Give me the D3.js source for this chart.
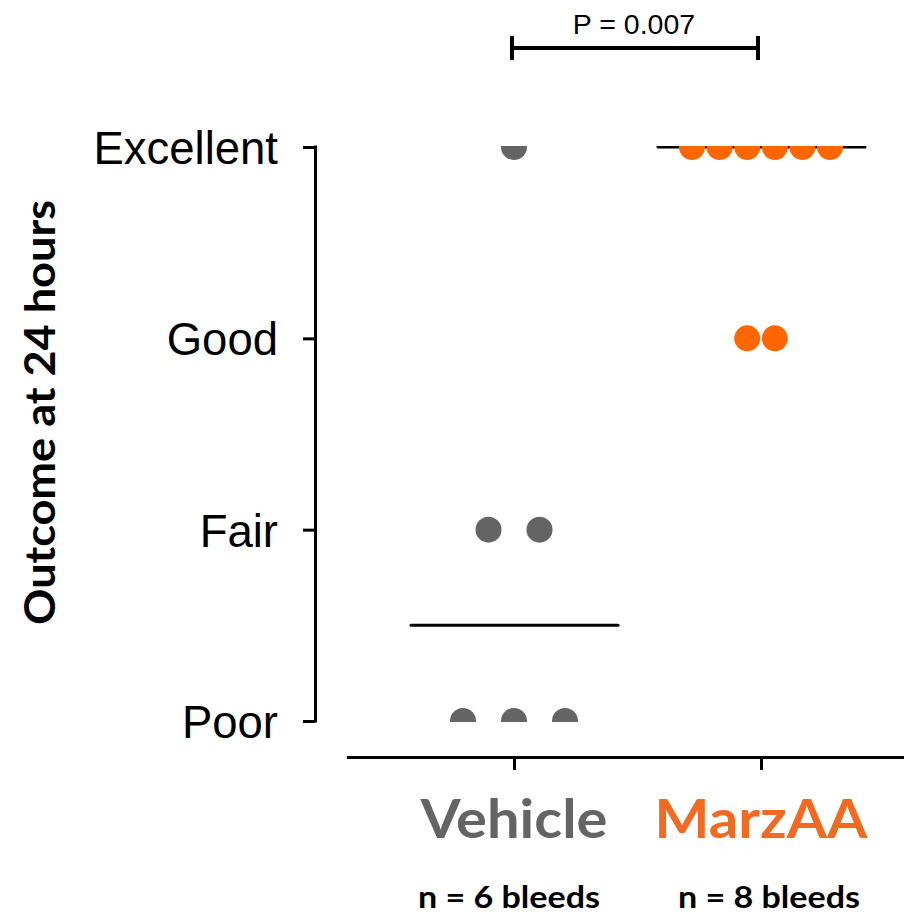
<!DOCTYPE html>
<html><head><meta charset="utf-8">
<script src="https://cdn.jsdelivr.net/npm/d3@7"></script>
<style>body{margin:0;background:#fff}</style>
</head><body>
<svg id="chart" width="904" height="916"></svg>
<script>
// ---- data ----
const outcomeLabels = ["Poor", "Fair", "Good", "Excellent"]; // scores 1..4
const groups = ["Vehicle", "MarzAA"];
const vehicleScores = [4, 2, 2, 1, 1, 1];
const marzaaScores = [4, 4, 4, 4, 4, 4, 3, 3];
const medians = [1.5, 4];
const nLabels = ["n = 6 bleeds", "n = 8 bleeds"];
const pLabel = "P = 0.007";

const groupColors = ["#646464", "#ff6600"];
const labelColors = ["#646464", "#f26a22"];
const dotSpacing = [51, 27.6];
const catWidths = [187, 213];
const nOffsets = [-5, 8];

const svg = d3.select("#chart");
const y = d3.scaleLinear().domain([1, 4]).range([721, 147]);
const x = d3.scalePoint().domain(groups).range([514, 761]);

// y axis
const yAxis = svg.append("g").attr("transform", "translate(315,0)")
  .call(d3.axisLeft(y).tickValues([1,2,3,4]).tickFormat(d => outcomeLabels[d-1])
    .tickSize(12).tickSizeOuter(0).tickPadding(25));
yAxis.select(".domain").attr("stroke", "#000").attr("stroke-width", 3)
  .attr("d", `M0.5,${y(4)-1.5}V${y(1)+1.5}`);
yAxis.selectAll(".tick line").attr("stroke", "#000").attr("stroke-width", 3);
yAxis.selectAll(".tick text").attr("font-family", "Liberation Sans, Arial, sans-serif")
  .attr("font-size", 45.5).attr("fill", "#000").attr("dy", "0.36em");

// x axis
const xAxis = svg.append("g").attr("transform", "translate(0,757)")
  .call(d3.axisBottom(x).tickSize(13).tickSizeOuter(0).tickFormat(""));
xAxis.select(".domain").attr("stroke", "#000").attr("stroke-width", 3)
  .attr("d", "M347,0.5H904");
xAxis.selectAll(".tick line").attr("stroke", "#000").attr("stroke-width", 3);

// category labels
svg.selectAll("text.cat").data(groups).join("text").attr("class", "cat")
  .attr("x", (d, i) => x(d) - catWidths[i] / 2).attr("y", 838)
  .attr("textLength", (d, i) => catWidths[i]).attr("lengthAdjust", "spacingAndGlyphs")
  .attr("font-family", "Lato, 'Open Sans', sans-serif").attr("font-weight", "bold")
  .attr("font-size", 54).attr("fill", (d, i) => labelColors[i]).text(d => d);

svg.selectAll("text.n").data(nLabels).join("text").attr("class", "n")
  .attr("x", (d, i) => x(groups[i]) + nOffsets[i] - 91).attr("y", 908)
  .attr("textLength", 182).attr("lengthAdjust", "spacingAndGlyphs")
  .attr("font-family", "Lato, 'Open Sans', sans-serif").attr("font-weight", "bold")
  .attr("font-size", 31).attr("fill", "#000").text(d => d);

// y title
svg.append("text").attr("transform", "translate(55,625) rotate(-90)")
  .attr("textLength", 425).attr("lengthAdjust", "spacingAndGlyphs")
  .attr("font-family", "Lato, 'Open Sans', sans-serif")
  .attr("font-weight", "bold").attr("font-size", 42).attr("fill", "#000")
  .text("Outcome at 24 hours");

// clip for data region
svg.append("clipPath").attr("id", "clip").append("rect")
  .attr("x", 320).attr("y", y(4) - 1).attr("width", 600).attr("height", y(1) - y(4) + 2);
const plot = svg.append("g").attr("clip-path", "url(#clip)");

// medians
plot.selectAll("line.med").data(medians).join("line").attr("class", "med")
  .attr("x1", (d, i) => x(groups[i]) - 103).attr("x2", (d, i) => x(groups[i]) + 104)
  .attr("y1", d => y(d)).attr("y2", d => y(d))
  .attr("stroke", "#000").attr("stroke-width", 3).attr("stroke-linecap", "round");

// dots
function layout(scores, gi) {
  const pts = [];
  const counts = d3.rollup(scores, v => v.length, d => d);
  const seen = new Map();
  scores.forEach(s => {
    const n = counts.get(s); const k = seen.get(s) || 0; seen.set(s, k + 1);
    pts.push({ g: gi, v: s, off: (k - (n - 1) / 2) * dotSpacing[gi] });
  });
  return pts;
}
const pts = layout(vehicleScores, 0).concat(layout(marzaaScores, 1));
plot.selectAll("circle").data(pts).join("circle")
  .attr("cx", d => x(groups[d.g]) + d.off).attr("cy", d => y(d.v)).attr("r", 13)
  .attr("fill", d => groupColors[d.g]);

// significance bracket
const b = svg.append("g").attr("stroke", "#000").attr("stroke-width", 4).attr("fill", "none");
b.append("line").attr("x1", 512).attr("x2", 758).attr("y1", 48).attr("y2", 48);
b.append("line").attr("x1", 512).attr("x2", 512).attr("y1", 36).attr("y2", 60);
b.append("line").attr("x1", 758).attr("x2", 758).attr("y1", 36).attr("y2", 60);
svg.append("text").attr("x", 634).attr("y", 34).attr("text-anchor", "middle")
  .attr("font-family", "Liberation Sans, Arial, sans-serif").attr("font-size", 28.5)
  .attr("fill", "#000").text(pLabel);
</script>
</body></html>
